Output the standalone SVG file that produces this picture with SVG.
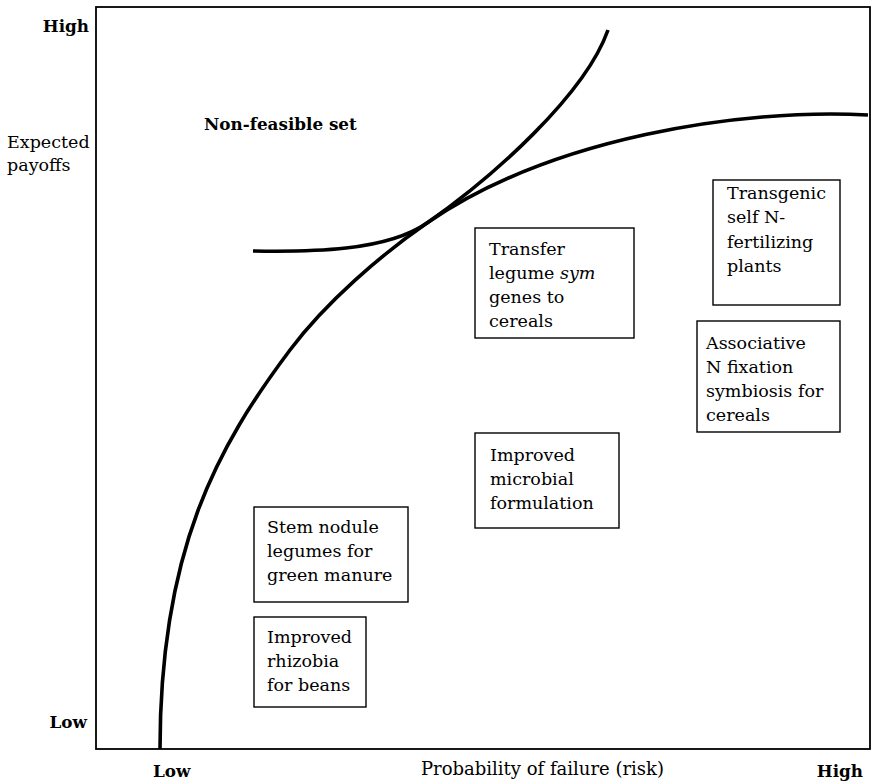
<svg xmlns="http://www.w3.org/2000/svg" width="873" height="784" viewBox="0 0 873 784">
<style>
.frame{fill:none;stroke:#000;stroke-width:1.8}
.curve{fill:none;stroke:#000;stroke-width:3.6;stroke-linecap:butt}
.box{fill:#fff;stroke:#000;stroke-width:1.4}
.t{font-family:"DejaVu Serif","Liberation Serif",serif;font-size:17.5px;fill:#000}
.b{font-family:"DejaVu Serif","Liberation Serif",serif;font-size:16.8px;font-weight:bold;fill:#000}
</style>
<rect width="873" height="784" fill="#fff"/>
<rect class="frame" x="96" y="7" width="774" height="742"/>
<g id="connectors">
<path class="curve" d="M160,749 C160,549 218,446 290,350 C326,302 382,254 427,223 C550,138 740,108 868,115"/>
<path class="curve" d="M253,251 C310,252 386,251.5 427,223 C493,177 585,95 608,30"/>
</g>
<g id="axis-labels">
<text class="b" x="89" y="32" text-anchor="end">High</text>
<text class="t" x="7" y="148">Expected</text>
<text class="t" x="7" y="171">payoffs</text>
<text class="b" x="87" y="728" text-anchor="end">Low</text>
<text class="b" x="153" y="777">Low</text>
<text class="t" x="421" y="775" style="font-size:18px">Probability of failure (risk)</text>
<text class="b" x="863" y="777" text-anchor="end">High</text>
<text class="b" x="204" y="130">Non-feasible set</text>
</g>
<g id="transfer">
<rect class="box" x="475" y="228" width="159" height="110"/>
<text class="t" x="489" y="255">Transfer</text>
<text class="t" x="489" y="279">legume <tspan font-style="italic">sym</tspan></text>
<text class="t" x="489" y="303">genes to</text>
<text class="t" x="489" y="327">cereals</text>
</g>
<g id="transgenic">
<rect class="box" x="713" y="180" width="127" height="125"/>
<text class="t" x="727" y="199">Transgenic</text>
<text class="t" x="727" y="223">self N-</text>
<text class="t" x="727" y="248">fertilizing</text>
<text class="t" x="727" y="272">plants</text>
</g>
<g id="associative">
<rect class="box" x="697" y="321" width="143" height="111"/>
<text class="t" x="706" y="349">Associative</text>
<text class="t" x="706" y="373">N fixation</text>
<text class="t" x="706" y="397">symbiosis for</text>
<text class="t" x="706" y="421">cereals</text>
</g>
<g id="microbial">
<rect class="box" x="475" y="433" width="144" height="95"/>
<text class="t" x="490" y="461">Improved</text>
<text class="t" x="490" y="485">microbial</text>
<text class="t" x="490" y="509">formulation</text>
</g>
<g id="stem-nodule">
<rect class="box" x="254" y="507" width="154" height="95"/>
<text class="t" x="267" y="533">Stem nodule</text>
<text class="t" x="267" y="557">legumes for</text>
<text class="t" x="267" y="581">green manure</text>
</g>
<g id="rhizobia">
<rect class="box" x="254" y="617" width="112" height="90"/>
<text class="t" x="267" y="643">Improved</text>
<text class="t" x="267" y="667">rhizobia</text>
<text class="t" x="267" y="691">for beans</text>
</g>
</svg>
